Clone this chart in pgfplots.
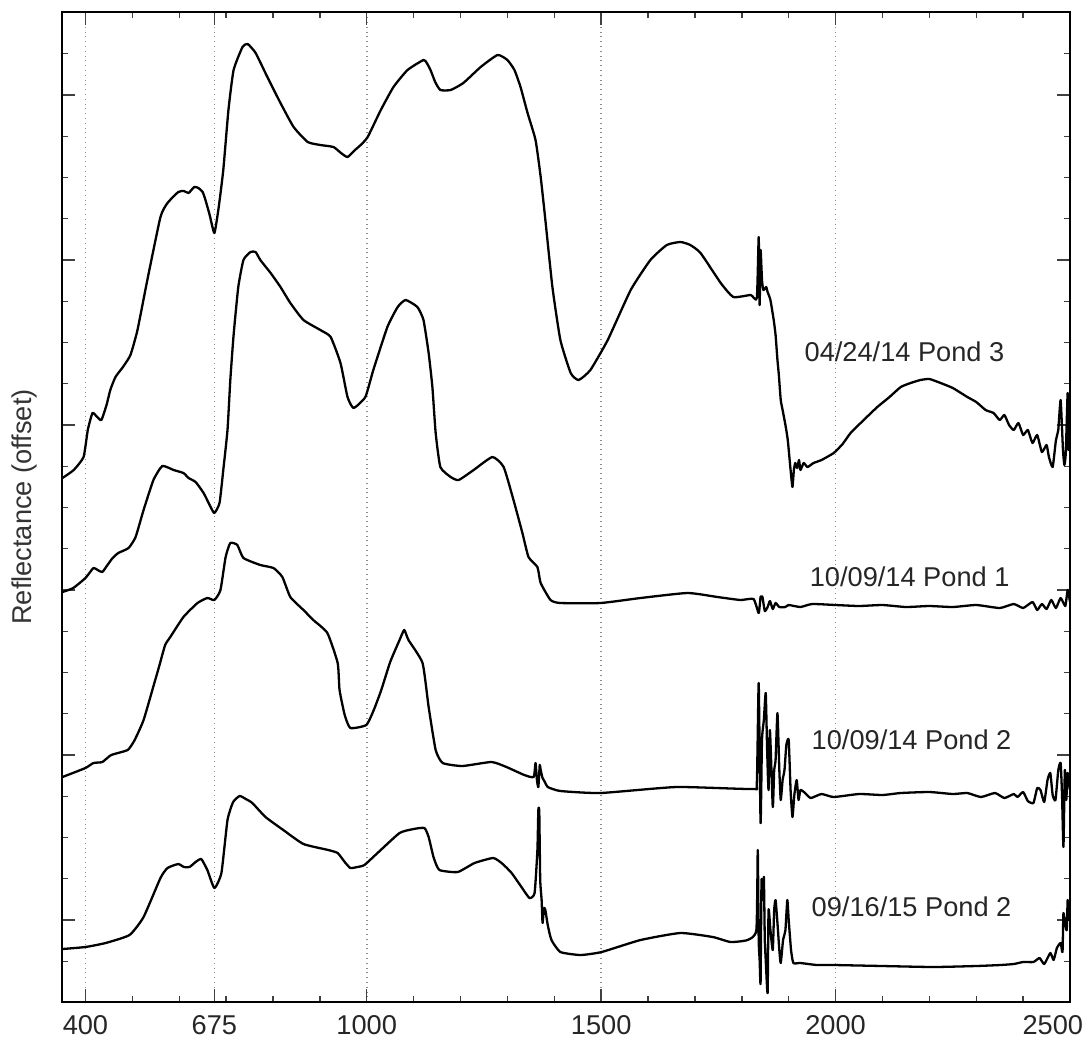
\documentclass[border=0pt]{standalone}
\usepackage{pgfplots}
\pgfplotsset{compat=1.18}
\usepackage{fontspec}
\setmainfont{Liberation Sans}
\pgfplotsset{spec/.style={black, no markers, line width=1.15pt, line join=round, smooth, tension=0.3}}
\begin{document}
\fontsize{13.6}{16}\selectfont
\begin{tikzpicture}
\begin{axis}[
  scale only axis,
  width=504pt, height=495pt,
  xmin=350, xmax=2500,
  ymin=-82, ymax=908,
  axis line style={line width=1.3pt, black},
  xtick={400,675,1000,1500,2000,2500},
  xticklabels={400,675,1000,1500,2000,\makebox[0pt][r]{2500\hspace*{-6.5pt}}},
  minor xtick={500,600,700,800,900,1100,1200,1300,1400,1600,1700,1800,1900,2100,2200,2300,2400},
  ytick={0,165,330,495,660,825},
  minor ytick={-41.25,41.25,82.5,123.75,206.25,247.5,288.75,371.25,412.5,453.75,536.25,577.5,618.75,701.25,742.5,783.75,866.25},
  yticklabels={},
  xtick pos=both, ytick pos=both,
  tick align=inside,
  major tick length=6.5pt, minor tick length=3pt,
  tick style={black!75, line width=0.7pt},
  xmajorgrids,
  major x grid style={dotted, black!45, line width=0.8pt},
  xticklabel style={text=black!85, yshift=-2pt},
  ylabel={Reflectance (offset)},
  ylabel style={at={(axis description cs:-0.037,0.5)}, anchor=center, text=black!80},
  clip=true,
]
% 04/24/14 Pond 3
\addplot[spec] coordinates {
(351,442) (375,450) (396,463) (405,490) (415,507) (425,503) (434,500) (445,515) (453,530) (464,543) (480,553) (496,565) (511,590) (532,640) (560,703)
(575,717) (598,728) (610,729) (620,727) (632,733) (641,732) (650,728) (656,720) (665,705) (675,687) (684,712) (694,750) (705,810) (716,850)
(735,873) (746,876) (763,867) (788,843) (816,817) (844,793) (874,778) (901,775) (929,773) (945,767) (959,763) (975,770) (987,775) (1002,783)
(1030,810) (1057,833) (1087,850) (1121,860) (1128,857) (1136,850) (1146,838) (1157,830) (1179,830) (1206,837) (1243,853) (1279,865) (1300,860)
(1315,850) (1328,833) (1343,807) (1360,780) (1371,743) (1381,700) (1396,633) (1413,580) (1435,547) (1452,540) (1477,550) (1514,580)
(1563,630) (1605,660) (1640,675) (1669,678) (1690,675) (1712,667) (1755,637) (1782,623) (1819,625) (1832,622) (1836,683) (1838,615)
(1840,670) (1843,640) (1846,630) (1852,633) (1855,628) (1861,620) (1868,600) (1872,585) (1876,560) (1879,545) (1883,520) (1887,510)
(1893,495) (1898,480) (1904,450) (1908,433) (1911,450) (1914,457) (1918,452) (1922,460) (1925,450) (1932,457) (1940,453) (1953,457)
(1970,460) (1996,467) (2015,476) (2032,487) (2060,500) (2089,513) (2115,523) (2139,533) (2160,537) (2181,540) (2200,541) (2224,537)
(2250,532) (2281,523) (2300,518) (2320,510) (2337,507) (2350,500) (2360,505) (2370,495) (2380,490) (2390,497) (2400,485) (2410,490)
(2420,477) (2430,485) (2440,468) (2450,475) (2455,463) (2463,453) (2470,480) (2475,490) (2480,520) (2485,470) (2488,455) (2491,467)
(2495,527) (2497,470) (2500,500)
};
% 10/09/14 Pond 1
\addplot[spec] coordinates {
(351,328) (374,332) (400,342) (417,352) (426,350) (436,348) (447,355) (458,362) (470,367) (492,372) (507,383) (524,410) (545,440) (564,454)
(588,450) (609,447) (620,442) (635,438) (652,427) (667,413) (675,407) (686,417) (694,450) (703,490) (709,540) (716,585) (726,633) (737,660)
(752,668) (763,668) (773,660) (795,647) (816,633) (837,617) (865,600) (901,590) (923,583) (944,557) (959,523) (972,512) (997,523) (1014,550)
(1044,593) (1066,613) (1083,620) (1108,613) (1121,600) (1132,567) (1140,533) (1147,487) (1157,453) (1179,443) (1196,440) (1228,450)
(1268,463) (1292,453) (1313,420) (1332,387) (1345,363) (1364,353) (1371,337) (1392,320) (1413,317) (1499,317) (1584,322) (1684,327)
(1748,323) (1797,320) (1825,321) (1836,307) (1840,323) (1844,323) (1849,309) (1855,313) (1860,319) (1866,311) (1872,317) (1880,313)
(1893,313) (1900,315) (1925,313) (1950,316) (2000,315) (2050,314) (2100,315) (2150,313) (2200,314) (2250,313) (2300,315) (2350,312)
(2380,316) (2400,312) (2420,318) (2430,310) (2440,316) (2450,311) (2460,320) (2470,312) (2480,322) (2490,314) (2495,330) (2500,318)
};
% 10/09/14 Pond 2
\addplot[spec] coordinates {
(351,143) (400,152) (417,157) (436,158) (455,165) (490,170) (505,180) (524,200) (547,237) (558,255) (570,275) (581,283) (609,303) (639,317)
(660,322) (675,320) (688,330) (699,363) (709,377) (724,375) (737,362) (773,355) (801,352) (820,343) (837,323) (865,310) (886,300) (916,287)
(938,257) (942,230) (953,205) (965,192) (999,195) (1015,210) (1031,230) (1050,258) (1070,280) (1080,290) (1089,280) (1119,257) (1132,213)
(1147,170) (1162,157) (1204,154) (1266,158) (1298,153) (1336,145) (1356,143) (1360,157) (1363,140) (1366,133) (1369,155) (1371,150)
(1375,142) (1380,138) (1386,133) (1413,129) (1499,127) (1661,133) (1823,131) (1832,137) (1836,237) (1840,97) (1843,180) (1847,200)
(1851,227) (1854,170) (1857,130) (1860,190) (1866,113) (1869,150) (1872,160) (1876,207) (1880,150) (1883,120) (1887,140) (1891,150)
(1895,175) (1900,180) (1904,130) (1908,103) (1912,125) (1917,140) (1921,120) (1925,130) (1935,127) (1947,122) (1970,126) (1996,123)
(2050,126) (2100,125) (2139,127) (2200,128) (2250,126) (2281,127) (2310,123) (2340,127) (2360,122) (2380,126) (2388,123) (2400,128)
(2410,119) (2422,117) (2430,132) (2437,130) (2445,118) (2452,140) (2458,147) (2463,125) (2469,120) (2475,150) (2480,157) (2483,125)
(2486,73) (2489,150) (2492,120) (2495,147) (2500,130)
};
% 09/16/15 Pond 2
\addplot[spec] coordinates {
(351,-29) (400,-27) (443,-23) (494,-15) (524,3) (560,42) (575,52) (598,56) (610,53) (622,53) (635,58) (647,61) (660,50) (675,32) (690,47)
(703,100) (715,118) (729,124) (742,121) (756,117) (784,103) (822,90) (865,76) (918,70) (938,67) (953,58) (965,52) (980,53) (995,55) (1023,67)
(1070,87) (1100,91) (1123,92) (1132,83) (1143,62) (1155,50) (1194,48) (1230,57) (1270,62) (1290,56) (1309,47) (1330,33) (1347,22)
(1358,27) (1364,70) (1366,110) (1368,108) (1370,40) (1373,20) (1375,-3) (1378,12) (1381,10) (1386,-5) (1394,-20) (1413,-32)
(1456,-35) (1501,-32) (1584,-20) (1669,-13) (1738,-17) (1776,-22) (1812,-20) (1831,-10) (1834,70) (1836,-20) (1838,-40) (1840,-63)
(1842,40) (1844,20) (1847,43) (1849,-20) (1851,-40) (1855,-73) (1857,10) (1861,-10) (1866,-30) (1869,10) (1872,20) (1876,-3) (1880,-30)
(1883,-43) (1888,-20) (1893,-10) (1897,20) (1900,0) (1905,-30) (1910,-43) (1925,-43) (1960,-45) (1996,-45) (2100,-46) (2209,-47)
(2300,-46) (2352,-45) (2380,-44) (2400,-42) (2422,-42) (2435,-38) (2445,-44) (2458,-33) (2465,-40) (2472,-28) (2480,-23) (2484,-32)
(2486,7) (2490,-5) (2493,-10) (2495,20) (2497,0) (2500,10)
};
\node[text=black!85] at (axis cs:2147,568) {04/24/14 Pond 3};
\node[text=black!85] at (axis cs:2158,343) {10/09/14 Pond 1};
\node[text=black!85] at (axis cs:2162,180) {10/09/14 Pond 2};
\node[text=black!85] at (axis cs:2162,13) {09/16/15 Pond 2};
\end{axis}
\path ([shift={(-31pt,-22pt)}]current axis.south west) rectangle ([shift={(10pt,6pt)}]current axis.north east);
\end{tikzpicture}
\end{document}
